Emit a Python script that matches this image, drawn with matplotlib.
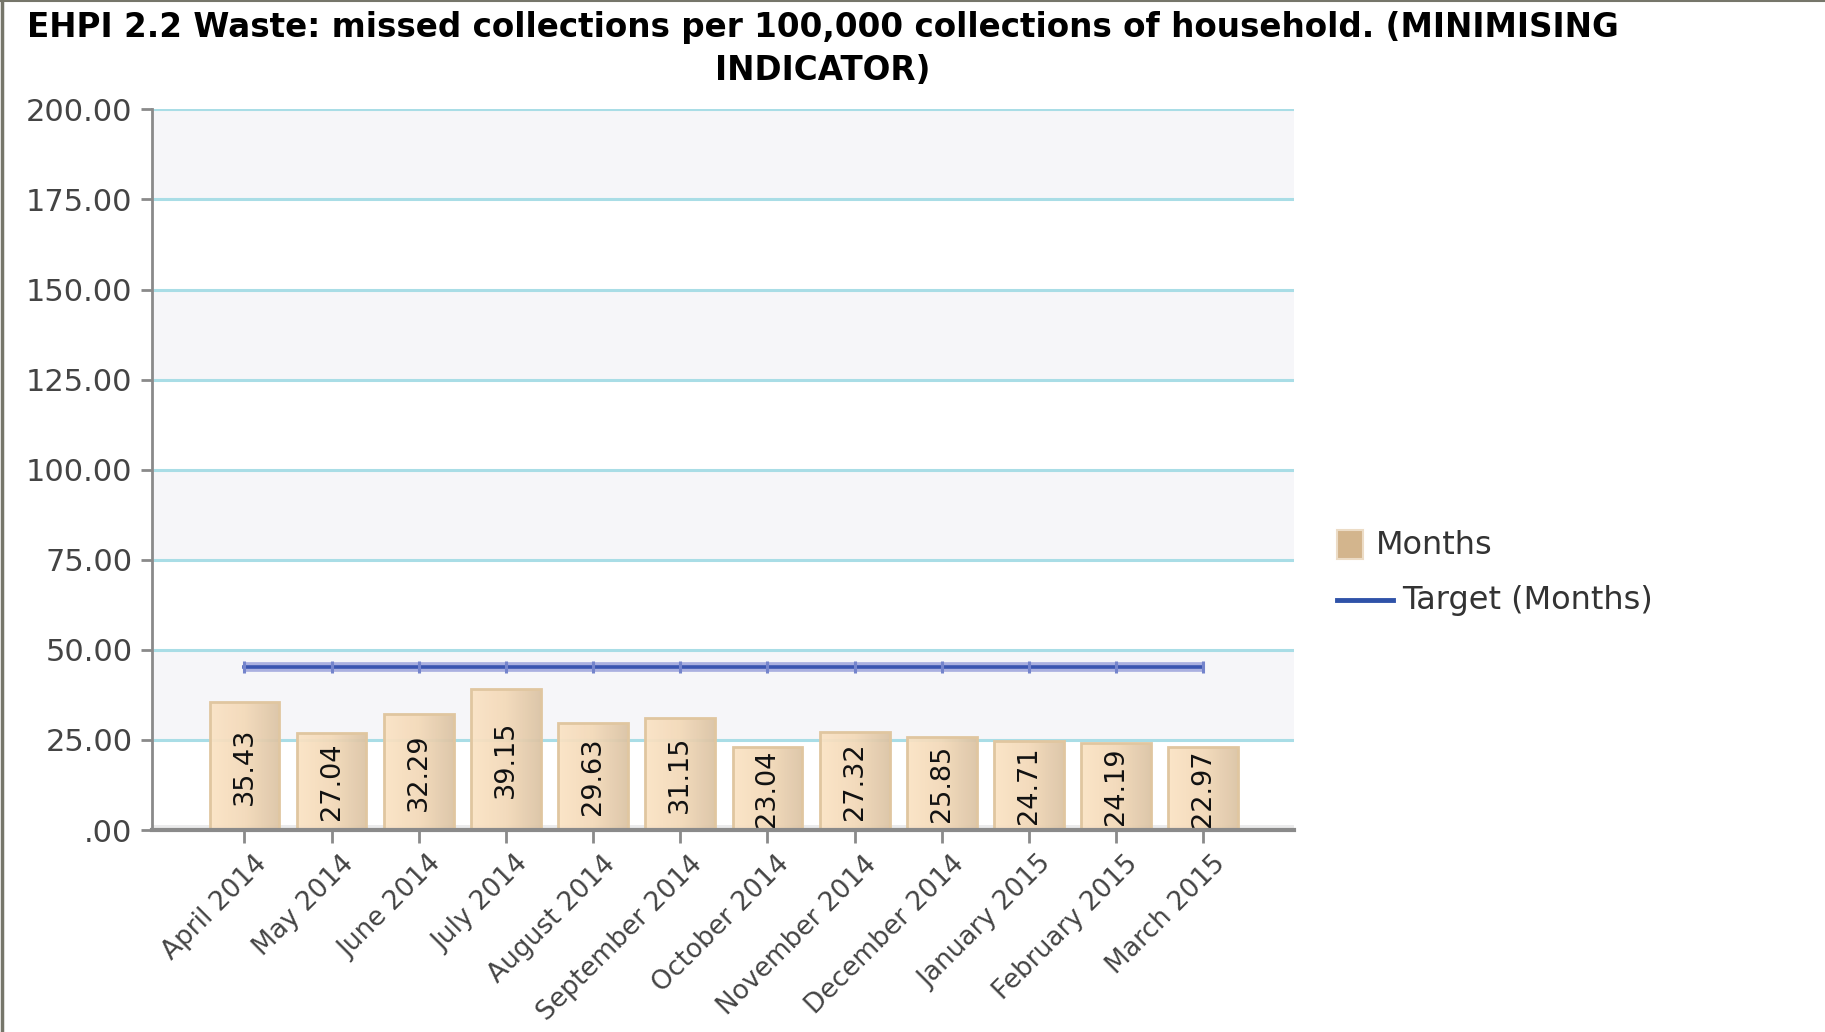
import numpy as np
import matplotlib
matplotlib.use("Agg")
import matplotlib.pyplot as plt
from matplotlib.colors import LinearSegmentedColormap
from matplotlib.lines import Line2D
from matplotlib.patches import Rectangle
from matplotlib.transforms import ScaledTranslation

months = ["April 2014", "May 2014", "June 2014", "July 2014", "August 2014",
          "September 2014", "October 2014", "November 2014", "December 2014",
          "January 2015", "February 2015", "March 2015"]
missed = [35.43, 27.04, 32.29, 39.15, 29.63, 31.15, 23.04, 27.32, 25.85,
          24.71, 24.19, 22.97]
target = [45.3] * 12
y_ticks = [0, 25, 50, 75, 100, 125, 150, 175, 200]

title = ("EHPI 2.2 Waste: missed collections per 100,000 collections of household. (MINIMISING\n"
         "INDICATOR)")

W, H = 1825, 1032
fig = plt.figure(figsize=(W / 100, H / 100), dpi=100)
fig.patch.set_facecolor("white")

ax = fig.add_axes([152 / W, 1 - 830 / H, (1294 - 152) / W, (830 - 109.4) / H])
ax.set_facecolor("white")

x = np.arange(len(months))

# alternating bands behind the grid
for lo in [25, 75, 125, 175]:
    ax.axhspan(lo, lo + 25, color="#f6f6f9", zorder=0, lw=0)
ax.axhspan(0, 1.4, color="#ebebec", zorder=0.6, lw=0)

ax.set_axisbelow(True)
ax.yaxis.grid(True, color="#a9dde6", lw=2.2)

# bars with a left-to-right gradient fill
tan = LinearSegmentedColormap.from_list("tan", ["#fbe3c4", "#f3d9b8", "#dbc3a4"])
grad = np.linspace(0, 1, 256).reshape(1, -1)
bars = ax.bar(x, missed, width=0.8, facecolor="none", edgecolor="#e0c6a0",
              lw=2, zorder=3)
for b in bars:
    x0, w, h = b.get_x(), b.get_width(), b.get_height()
    im = ax.imshow(grad, extent=[x0, x0 + w, 0, h], aspect="auto", cmap=tan,
                   zorder=2.9, alpha=0.93, interpolation="bilinear")
    im.set_clip_path(b)

for xi, v in zip(x, missed):
    ax.text(xi, v / 2, f"{v:.2f}", rotation=90, ha="center", va="center",
            fontsize=19.5, color="#111111", zorder=4)

# target line with halo and point ticks
ax.plot(x, target, color="#aab0e0", lw=7, solid_capstyle="butt", zorder=3.5)
ax.plot(x, target, color="#3a55b0", lw=2.6, zorder=3.6,
        marker="|", markersize=9, markeredgewidth=2.2, markeredgecolor="#7484cc")

ax.set_xlim(-1.06, 12.04)
ax.set_ylim(0, 200)

ax.set_yticks(y_ticks)
ax.set_yticklabels([f"{t:.2f}".lstrip("0") if t == 0 else f"{t:.2f}" for t in y_ticks])
ax.set_xticks(x)
ax.set_xticklabels(months, rotation=45, ha="right", va="center", rotation_mode="anchor")

for s in ["top", "right"]:
    ax.spines[s].set_visible(False)
ax.spines["left"].set_color("#8a8a8a")
ax.spines["left"].set_linewidth(2)
ax.spines["bottom"].set_color("#8a8a8a")
ax.spines["bottom"].set_linewidth(3)
ax.spines["bottom"].set_zorder(5)

ax.tick_params(axis="y", colors="#8a8a8a", length=8, width=2, labelsize=22,
               labelcolor="#444444", pad=6)
ax.tick_params(axis="x", colors="#8a8a8a", length=9, width=2, labelsize=19,
               labelcolor="#444444", pad=4)

shift = ScaledTranslation(18 / 100, -12 / 100, fig.dpi_scale_trans)
for lbl in ax.get_xticklabels():
    lbl.set_transform(lbl.get_transform() + shift)

fig.text(823 / W, 1 - 49 / H, title, ha="center", va="center", fontsize=23.5,
         fontweight="bold", color="#000000", linespacing=1.35)

# legend
fig.add_artist(Rectangle((1337 / W, 1 - 559 / H), 26 / W, 29 / H,
                         transform=fig.transFigure, facecolor="#d3b58d",
                         edgecolor="#ecdcc6", lw=1.5))
fig.text(1376 / W, 1 - 545 / H, "Months", ha="left", va="center",
         fontsize=23, color="#333333")
fig.add_artist(Line2D([1337 / W, 1393 / W], [1 - 600 / H, 1 - 600 / H],
                      transform=fig.transFigure, color="#2f52a8", lw=3.5))
fig.text(1402 / W, 1 - 601 / H, "Target (Months)", ha="left", va="center",
         fontsize=23, color="#333333")

# outer frame on the left and top edges
fig.add_artist(Line2D([0.001, 0.001], [0, 1], transform=fig.transFigure,
                      color="#76766a", lw=2.5))
fig.add_artist(Line2D([0, 1], [0.999, 0.999], transform=fig.transFigure,
                      color="#76766a", lw=1.5))

fig.savefig("out.png", dpi=100)
